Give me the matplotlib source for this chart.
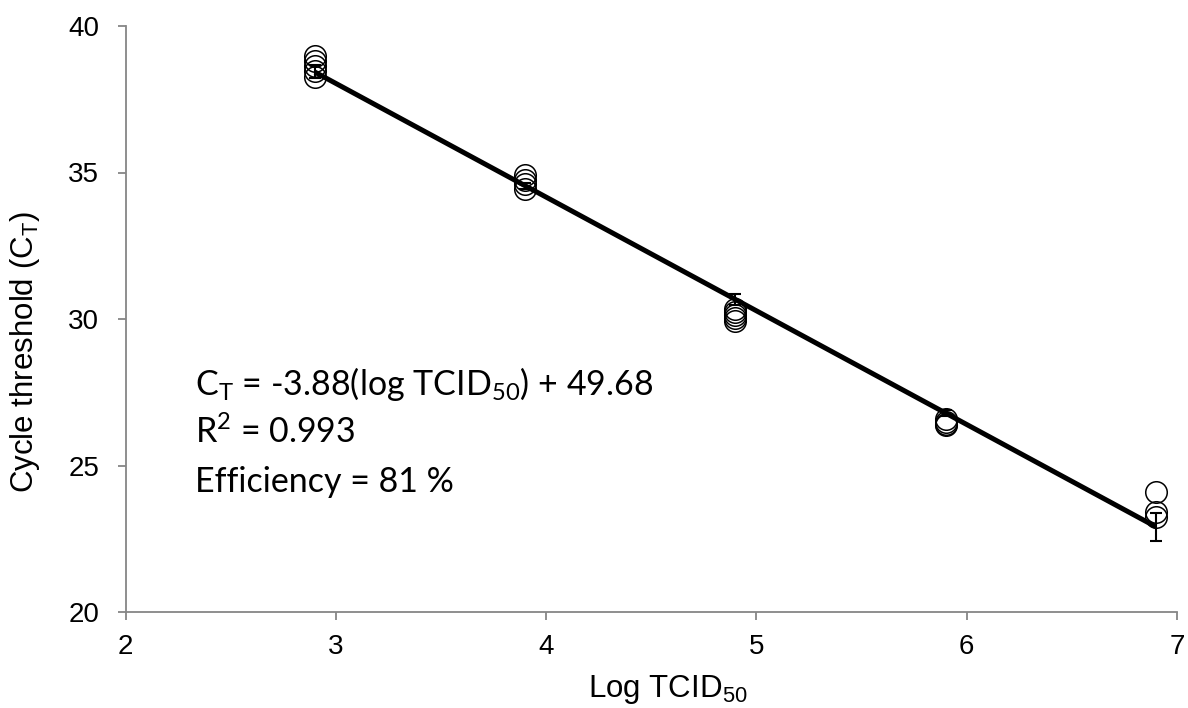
import matplotlib
matplotlib.use("Agg")
import matplotlib.pyplot as plt

# ---- data ----
x_levels = [2.9, 3.9, 4.9, 5.9, 6.9]
replicates = [
    [38.98, 38.80, 38.62, 38.45, 38.25],
    [34.92, 34.75, 34.60, 34.45],
    [30.34, 30.24, 30.14, 30.04, 29.93],
    [26.59, 26.50, 26.42, 26.38],
    [24.08, 23.40, 23.23],
]
means = [38.45, 34.55, 30.67, 26.79, 22.90]
sds = [0.22, 0.10, 0.18, 0.10, 0.48]
slope = -3.88
intercept = 49.68
x_ticks = [2, 3, 4, 5, 6, 7]
y_ticks = [20, 25, 30, 35, 40]

W, H = 1188, 708
fig = plt.figure(figsize=(W / 100, H / 100), dpi=100)
ax = fig.add_axes([125.6 / W, 1 - 612 / H, (1177 - 125.6) / W, (612 - 26) / H])

tick_font = "Liberation Sans"
ann_font = "Lato"

for xv, reps in zip(x_levels, replicates):
    ax.plot([xv] * len(reps), reps, linestyle="none", marker="o", ms=15.5,
            mfc="none", mec="black", mew=1.1, zorder=2)

ax.errorbar(x_levels, means, yerr=sds, fmt="none", ecolor="black",
            elinewidth=1.5, capsize=4.5, capthick=1.5, zorder=3)

line_x = [x_levels[0], x_levels[-1]]
line_y = [slope * v + intercept for v in line_x]
ax.plot(line_x, line_y, color="black", lw=3.6, zorder=4, solid_capstyle="butt")

ax.set_xlim(2, 7)
ax.set_ylim(20, 40)
ax.set_xticks(x_ticks)
ax.set_yticks(y_ticks)
for s in ["top", "right"]:
    ax.spines[s].set_visible(False)
for s in ["left", "bottom"]:
    ax.spines[s].set_color("#868686")
    ax.spines[s].set_linewidth(1.3)
ax.tick_params(direction="out", length=6, width=1.3, color="#868686",
               labelsize=20, labelcolor="black")
ax.tick_params(axis="y", pad=13)
ax.tick_params(axis="x", pad=10)
for lab in ax.get_xticklabels() + ax.get_yticklabels():
    lab.set_fontfamily(tick_font)

fig.text(668 / W, 1 - 697 / H, r"Log TCID$_\mathregular{50}$", fontsize=22.5,
         fontfamily=tick_font, ha="center", va="baseline")
fig.text(25 / W, 1 - 352 / H, r"Cycle threshold (C$_\mathregular{T}$)", fontsize=22.5,
         fontfamily=tick_font, ha="center", va="center", rotation=90)

fs_ann = 24.5
fig.text(195 / W, 1 - 395 / H, r"C$_\mathregular{T}$ = -3.88(log TCID$_\mathregular{50}$) + 49.68",
         fontsize=fs_ann, fontfamily=ann_font, va="baseline")
fig.text(195 / W, 1 - 443 / H, r"R$^\mathregular{2}$ = 0.993",
         fontsize=fs_ann, fontfamily=ann_font, va="baseline")
fig.text(195 / W, 1 - 492 / H, "Efficiency = 81 %",
         fontsize=fs_ann, fontfamily=ann_font, va="baseline")

fig.savefig("out.png", dpi=100)
